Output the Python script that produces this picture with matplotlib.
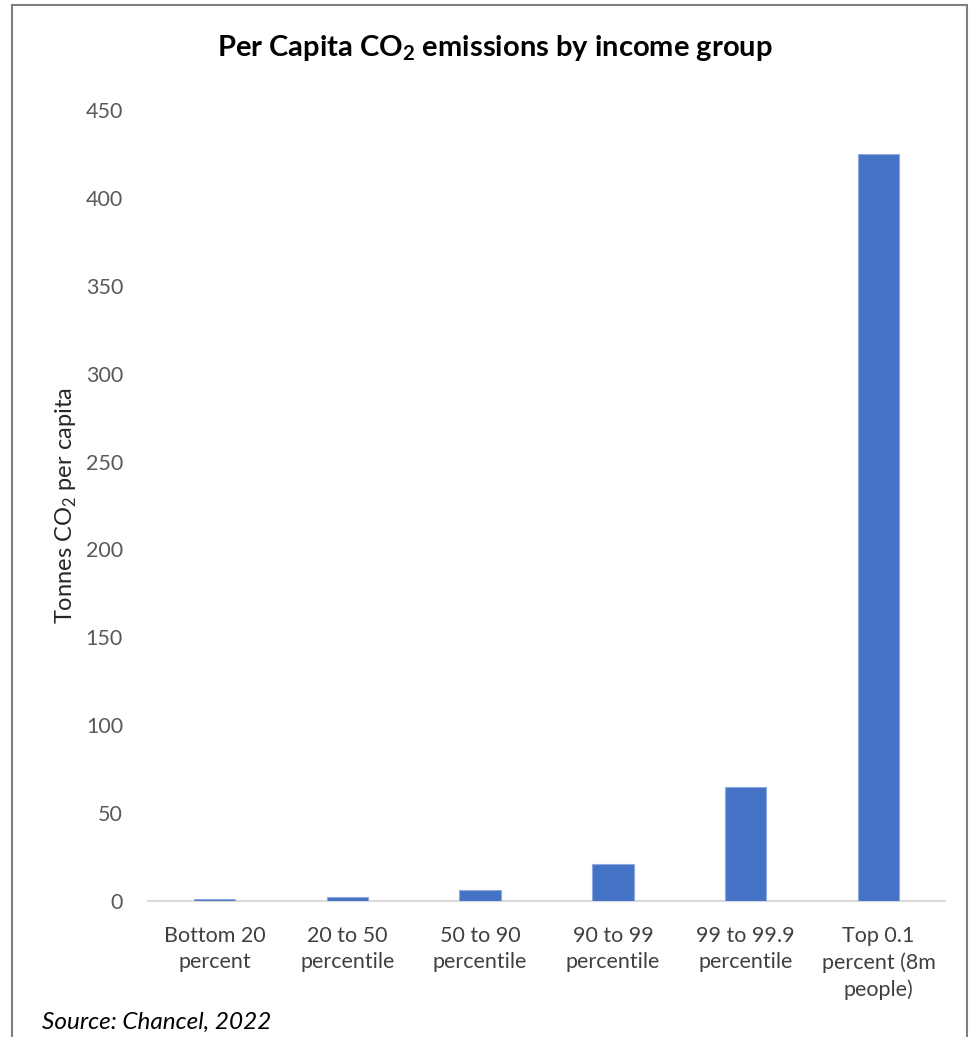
import matplotlib.pyplot as plt
from matplotlib.patches import Rectangle

groups = ["Bottom 20\npercent", "20 to 50\npercentile", "50 to 90\npercentile",
          "90 to 99\npercentile", "99 to 99.9\npercentile", "Top 0.1\npercent (8m\npeople)"]
tonnes = [0.9, 2.1, 6.3, 21, 65, 425]
yticks = [0, 50, 100, 150, 200, 250, 300, 350, 400, 450]

plt.rcParams['font.family'] = ['Lato', 'DejaVu Sans']
plt.rcParams['mathtext.fontset'] = 'custom'
plt.rcParams['mathtext.rm'] = 'Lato'
plt.rcParams['mathtext.bf'] = 'Lato:bold'

W, H = 969, 1037
fig = plt.figure(figsize=(W / 100, H / 100), dpi=100)
ax = fig.add_axes([148 / W, 1 - 901 / H, (945 - 148) / W, (901 - 110) / H])

x = range(len(groups))
ax.bar(x, tonnes, width=0.31, color="#4472C4", edgecolor="#8FAADC", linewidth=0.8, zorder=3)

ax.set_xlim(-0.5, len(groups) - 0.5)
ax.set_ylim(0, 450)
ax.set_yticks(yticks)
ax.set_xticks(list(x))
ax.set_xticklabels(groups, fontsize=15.5, color="#404040", linespacing=1.4)
ax.tick_params(axis="y", labelsize=15.5, labelcolor="#595959", length=0, pad=18)
ax.tick_params(axis="x", length=0, pad=18)

for s in ["top", "right", "left"]:
    ax.spines[s].set_visible(False)
ax.spines["bottom"].set_color("#D9D9D9")
ax.spines["bottom"].set_linewidth(1.5)

ax.set_ylabel("Tonnes CO$_\\mathrm{2}$ per capita", fontsize=17, color="#262626", labelpad=5)

fig.text(495 / W, 1 - 48 / H, "Per Capita CO$_\\mathbf{2}$ emissions by income group",
         ha="center", va="center", fontsize=21, fontweight="bold")
fig.text(42 / W, 1 - 1022 / H, "Source: Chancel, 2022", ha="left", va="center",
         fontsize=17.5, style="italic")

# chart frame, open at the bottom
fig.add_artist(Rectangle((12 / W, -0.05), (967 - 12) / W, 1.05 - 5 / H,
                         transform=fig.transFigure, fill=False,
                         edgecolor="#7F7F7F", linewidth=1.5))

fig.savefig("out.png", dpi=100)
